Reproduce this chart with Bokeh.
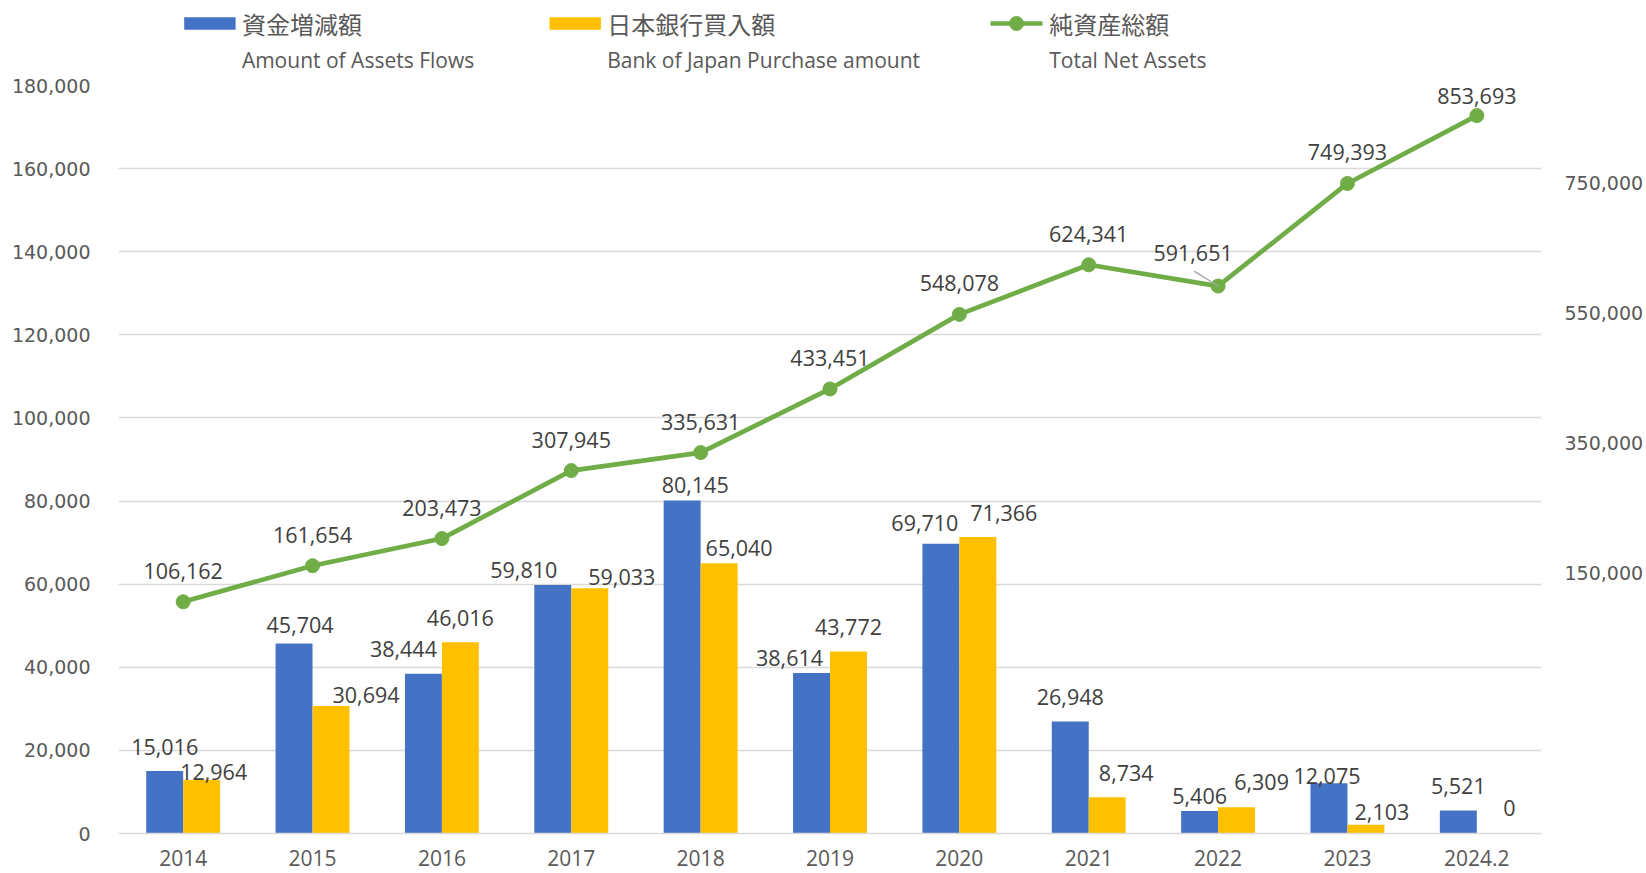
from bokeh.plotting import figure
from bokeh.models import (ColumnDataSource, FactorRange, Range1d, LinearAxis,
                          FixedTicker, NumeralTickFormatter)
from bokeh.transform import dodge
from bokeh.layouts import column
from bokeh.core.properties import value
from bokeh.embed import file_html
from bokeh.resources import INLINE

# ---------------- data ----------------
categories = ["2014", "2015", "2016", "2017", "2018", "2019", "2020",
              "2021", "2022", "2023", "2024.2"]
asset_flows = [15016, 45704, 38444, 59810, 80145, 38614, 69710, 26948, 5406, 12075, 5521]
boj_purchase = [12964, 30694, 46016, 59033, 65040, 43772, 71366, 8734, 6309, 2103, 0]
total_net_assets = [106162, 161654, 203473, 307945, 335631, 433451, 548078,
                    624341, 591651, 749393, 853693]

legend_jp = ["資金増減額", "日本銀行買入額", "純資産総額"]
legend_en = ["Amount of Assets Flows", "Bank of Japan Purchase amount", "Total Net Assets"]

# label offsets (screen px, style only)
flow_dx = [0, 6, -20, -29, 13, -22, -16, 0, 0, -2, 0]
flow_dy = [-24.5, -18.7, -24.5, -14.8, -15.7, -14.8, -20.7, -24.5, -15.4, -7.7, -24.5]
boj_dx = [12, 35, 0, 32, 20, 0, 26, 19, 25, 16, 14]
boj_dy = [-8, -11, -24.7, -11.3, -15.4, -24.7, -24.4, -24.7, -25.3, -12.4, -25.3]
nav_dx = [0, 0, 0, 0, 0, 0, 0, 0, -25, 0, 0]
nav_dy = [-31, -31, -31, -31, -31, -31, -31, -31, -32.7, -31, -19.6]

BLUE = "#4472C4"
YELLOW = "#FFC000"
GREEN = "#70AD47"
LABEL_C = "#404040"
AXIS_C = "#595959"
GRID_C = "#D9D9D9"
LAT = "Open Sans"
CJK = "Noto Sans CJK JP"
NUMF = "DejaVu Sans"

fmt = lambda v: f"{v:,}"

src = ColumnDataSource(dict(
    cat=categories,
    flows=asset_flows, boj=boj_purchase, nav=total_net_assets,
    flows_t=[fmt(v) for v in asset_flows],
    boj_t=[fmt(v) for v in boj_purchase],
    nav_t=[fmt(v) for v in total_net_assets],
    fdx=flow_dx, fdy=flow_dy, bdx=boj_dx, bdy=boj_dy, ndx=nav_dx, ndy=nav_dy,
))

W = 1646
H = 873
LEG_H = 75
MAIN_H = H - LEG_H
F_LEFT = 118
F_RIGHT = 1541

# ---------------- legend strip ----------------
leg = figure(width=W, height=LEG_H, x_range=Range1d(F_LEFT, F_RIGHT),
             y_range=Range1d(LEG_H, 0),
             output_backend="svg", toolbar_location=None,
             min_border_left=F_LEFT, min_border_right=W - F_RIGHT,
             min_border_top=0, min_border_bottom=0,
             outline_line_color=None, background_fill_color="white")
leg.axis.visible = False
leg.grid.visible = False
leg.rect(x=[209.4, 574.7], y=[23, 23], width=51.4, height=12.6,
         color=[BLUE, YELLOW], line_color=None)
leg.line(x=[990, 1042], y=[23, 23], line_color=GREEN, line_width=4.7)
leg.scatter(x=[1016], y=[23], size=14, color=GREEN, marker="circle")
leg.text(x=[241.4, 606.7, 1048.7], y=[23, 23, 23], text=legend_jp,
         text_font=value(CJK), text_font_size="24px", text_color=AXIS_C,
         text_align="left", text_baseline="middle")
leg.text(x=[241.4, 606.7, 1048.7], y=[59, 59, 59], text=legend_en,
         text_font=value(LAT), text_font_size="21px", text_color=AXIS_C,
         text_align="left", text_baseline="middle")

# ---------------- main chart ----------------
p = figure(width=W, height=MAIN_H, x_range=FactorRange(*categories),
           y_range=Range1d(0, 180000),
           output_backend="svg", toolbar_location=None,
           min_border_left=F_LEFT, min_border_right=W - F_RIGHT, min_border_top=10,
           min_border_bottom=40, outline_line_color=None,
           background_fill_color="white")
p.extra_y_ranges = {"right": Range1d(-250000, 900000)}

bw = 0.2857
p.vbar(x=dodge("cat", -bw / 2, range=p.x_range), top="flows", width=bw,
       source=src, color=BLUE, line_color=None)
p.vbar(x=dodge("cat", bw / 2, range=p.x_range), top="boj", width=bw,
       source=src, color=YELLOW, line_color=None)

p.line(x="cat", y="nav", source=src, y_range_name="right",
       line_color=GREEN, line_width=4.7)
p.scatter(x="cat", y="nav", source=src, y_range_name="right",
          size=14, color=GREEN, marker="circle")

# leader line for 2022 label
lead_src = ColumnDataSource(dict(cat=[categories[8]], v=[total_net_assets[8]],
                                 v0=[total_net_assets[8] + 23000]))
p.segment(x0=dodge("cat", -0.185, range=p.x_range), y0="v0", x1="cat", y1="v",
          source=lead_src, y_range_name="right", line_color="#A6A6A6", line_width=1.3)

common = dict(text_font=value(LAT), text_font_size="21.5px", text_color=LABEL_C,
              text_align="center", text_baseline="middle")
p.text(x=dodge("cat", -bw / 2, range=p.x_range), y="flows", text="flows_t",
       x_offset="fdx", y_offset="fdy", source=src, **common)
p.text(x=dodge("cat", bw / 2, range=p.x_range), y="boj", text="boj_t",
       x_offset="bdx", y_offset="bdy", source=src, **common)
p.text(x="cat", y="nav", text="nav_t", x_offset="ndx", y_offset="ndy",
       y_range_name="right", source=src, **common)

# axes
p.xgrid.visible = False
p.ygrid.ticker = FixedTicker(ticks=list(range(0, 180001, 20000)))
p.ygrid.grid_line_color = GRID_C
p.ygrid.grid_line_width = 1.3

p.yaxis.ticker = FixedTicker(ticks=list(range(0, 180001, 20000)))
p.yaxis.formatter = NumeralTickFormatter(format="0,0")
p.yaxis.axis_line_color = None
p.yaxis.major_tick_line_color = None
p.yaxis.minor_tick_line_color = None
p.yaxis.major_tick_out = 0
p.yaxis.major_tick_in = 0
p.yaxis.major_label_text_font = NUMF
p.yaxis.major_label_text_font_size = "19px"
p.yaxis.major_label_text_color = AXIS_C
p.yaxis.major_label_standoff = 28

ry = LinearAxis(y_range_name="right",
                ticker=FixedTicker(ticks=[150000, 350000, 550000, 750000]),
                formatter=NumeralTickFormatter(format="0,0"))
ry.axis_line_color = None
ry.major_tick_line_color = None
ry.minor_tick_line_color = None
ry.major_tick_out = 0
ry.major_tick_in = 0
ry.major_label_text_font = NUMF
ry.major_label_text_font_size = "19px"
ry.major_label_text_color = AXIS_C
ry.major_label_standoff = 23
p.add_layout(ry, "right")

p.xaxis.axis_line_color = GRID_C
p.xaxis.axis_line_width = 1.5
p.xaxis.major_tick_line_color = None
p.xaxis.minor_tick_line_color = None
p.xaxis.major_tick_out = 0
p.xaxis.major_tick_in = 0
p.xaxis.major_label_text_font = LAT
p.xaxis.major_label_text_font_size = "21px"
p.xaxis.major_label_text_color = AXIS_C
p.xaxis.major_label_text_line_height = 0.8
p.xaxis.major_label_standoff = 16

layout = column(leg, p, spacing=0)
open("out.html", "w").write(file_html(layout, INLINE))
